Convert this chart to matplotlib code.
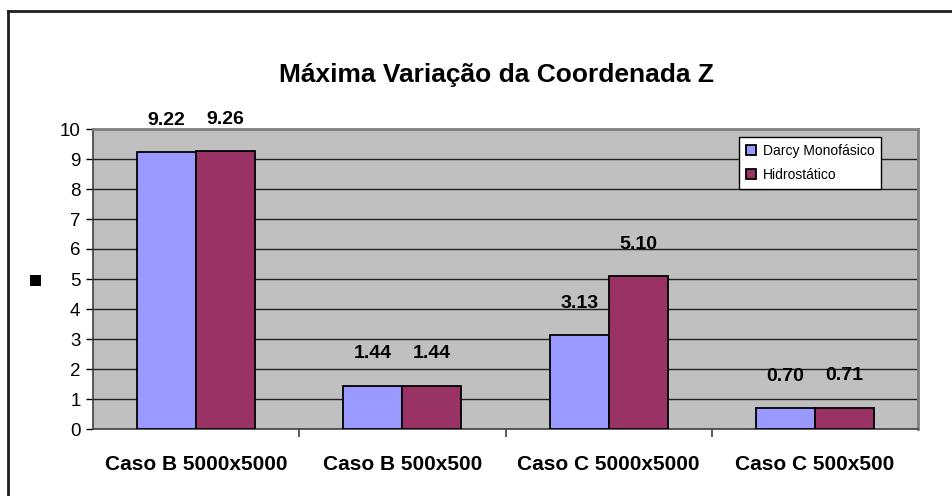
import matplotlib
matplotlib.use("Agg")
import matplotlib.pyplot as plt
from matplotlib.lines import Line2D
from matplotlib.patches import Rectangle
import numpy as np

plt.rcParams['font.family'] = ['Liberation Sans', 'DejaVu Sans']

categories = ["Caso B 5000x5000", "Caso B 500x500", "Caso C 5000x5000", "Caso C 500x500"]
darcy = [9.22, 1.44, 3.13, 0.70]
hidro = [9.26, 1.44, 5.10, 0.71]
series_names = ["Darcy Monofásico", "Hidrostático"]
title = "Máxima Variação da Coordenada Z"

W, H = 952, 496
fig = plt.figure(figsize=(W / 100, H / 100), dpi=100)
fig.patch.set_facecolor("white")

# plot area in pixel coordinates
left, right, top, bottom = 93, 918, 129, 429
ax = fig.add_axes([left / W, 1 - bottom / H, (right - left) / W, (bottom - top) / H])
ax.set_facecolor("#C0C0C0")

x = np.arange(len(categories))
bw = 0.286
b1 = ax.bar(x - bw / 2, darcy, bw, color="#9999FF", edgecolor="black", linewidth=1.3, zorder=3,
            label=series_names[0])
b2 = ax.bar(x + bw / 2, hidro, bw, color="#993366", edgecolor="black", linewidth=1.3, zorder=3,
            label=series_names[1])

for bars, vals in ((b1, darcy), (b2, hidro)):
    for rect, v in zip(bars, vals):
        ax.annotate(f"{v:.2f}", (rect.get_x() + rect.get_width() / 2, v),
                    xytext=(0, 23), textcoords="offset points", ha="center", va="center",
                    fontsize=14, fontweight="bold", zorder=5, annotation_clip=False)

ax.set_xlim(-0.5, len(categories) - 0.5)
ax.set_ylim(0, 10)
ax.set_yticks(range(0, 11))
ax.yaxis.grid(True, color="#202020", linewidth=1.0, zorder=1)
ax.set_axisbelow(True)

ax.set_xticks(np.arange(0.5, len(categories) - 0.5, 1.0))
ax.set_xticklabels([])
ax.set_xticks(x, minor=True)
ax.set_xticklabels(categories, minor=True, fontsize=15, fontweight="bold")
ax.tick_params(axis="x", which="minor", length=0, pad=19)
ax.tick_params(axis="x", which="major", length=6, width=1.2, direction="out", colors="#404040")
ax.tick_params(axis="y", length=5, width=1, labelsize=13.5, pad=4, colors="black")

for s in ("top", "right"):
    ax.spines[s].set_color("#808080")
    ax.spines[s].set_linewidth(2)
for s in ("left", "bottom"):
    ax.spines[s].set_color("#404040")
    ax.spines[s].set_linewidth(1.2)

leg = ax.legend(loc="upper left", bbox_to_anchor=((739 - left) / (right - left), 1 - (137 - top) / (bottom - top)),
                fontsize=10, frameon=True, fancybox=False, edgecolor="black", framealpha=1,
                handlelength=0.7, handleheight=0.7, handletextpad=0.5, labelspacing=0.7,
                borderpad=0.5, borderaxespad=0)
leg.get_frame().set_linewidth(1.0)
leg.get_frame().set_facecolor("white")

fig.text(496 / W, 1 - 75 / H, title, ha="center", va="center", fontsize=19, fontweight="bold")

# axis title placeholder square
fig.patches.append(Rectangle((30 / W, 1 - 286 / H), 11 / W, 11 / H, transform=fig.transFigure,
                             facecolor="black", edgecolor="none"))

# chart frame (left and top edges)
fig.add_artist(Line2D([8 / W, 8 / W], [0, 1 - 11 / H], color="#202020", linewidth=2, transform=fig.transFigure))
fig.add_artist(Line2D([8 / W, 1], [1 - 11 / H, 1 - 11 / H], color="#202020", linewidth=2, transform=fig.transFigure))

fig.savefig("out.png", dpi=100)
